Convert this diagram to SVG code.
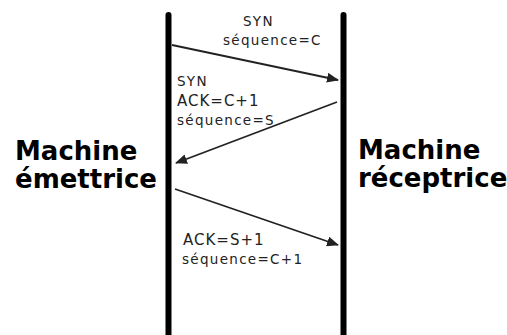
<svg xmlns="http://www.w3.org/2000/svg" width="507" height="335" viewBox="0 0 507 335">
<defs>
<style>
.life{stroke:#000;stroke-width:6;stroke-linecap:round;fill:none}
.msg{stroke:#222;stroke-width:1.8;fill:none}
.big{font-family:"DejaVu Sans",sans-serif;font-weight:bold;font-size:26px;fill:#000}
.small{font-family:"DejaVu Sans",sans-serif;font-size:13.5px;letter-spacing:1.3px;fill:#222}
.ack{font-size:15px;letter-spacing:1px}
</style>
<marker id="ah" viewBox="0 0 12 10" refX="11" refY="5" markerWidth="12" markerHeight="10" markerUnits="userSpaceOnUse" orient="auto">
<path d="M0,0 L12,5 L0,10 Z" fill="#222"/>
</marker>
</defs>
<rect width="507" height="335" fill="#fff"/>
<g id="emettrice">
<line class="life" x1="168.5" y1="15" x2="168.5" y2="340"/>
<text class="big" x="15" y="160">Machine</text>
<text class="big" x="15" y="188">émettrice</text>
</g>
<g id="receptrice">
<line class="life" x1="343.5" y1="15" x2="343.5" y2="340"/>
<text class="big" x="358" y="159">Machine</text>
<text class="big" x="358" y="187">réceptrice</text>
</g>
<g id="connectors">
<line class="msg" x1="172" y1="45" x2="338" y2="80" marker-end="url(#ah)"/>
<line class="msg" x1="337" y1="102" x2="176" y2="163" marker-end="url(#ah)"/>
<line class="msg" x1="175" y1="189" x2="338" y2="245" marker-end="url(#ah)"/>
</g>
<g id="labels">
<text class="small" x="243" y="26">SYN</text>
<text class="small" x="223" y="45">séquence=C</text>
<text class="small" x="177" y="86">SYN</text>
<text class="small ack" x="177" y="106">ACK=C+1</text>
<text class="small" x="177" y="125">séquence=S</text>
<text class="small ack" x="183" y="245">ACK=S+1</text>
<text class="small" x="182" y="264">séquence=C+1</text>
</g>
</svg>
